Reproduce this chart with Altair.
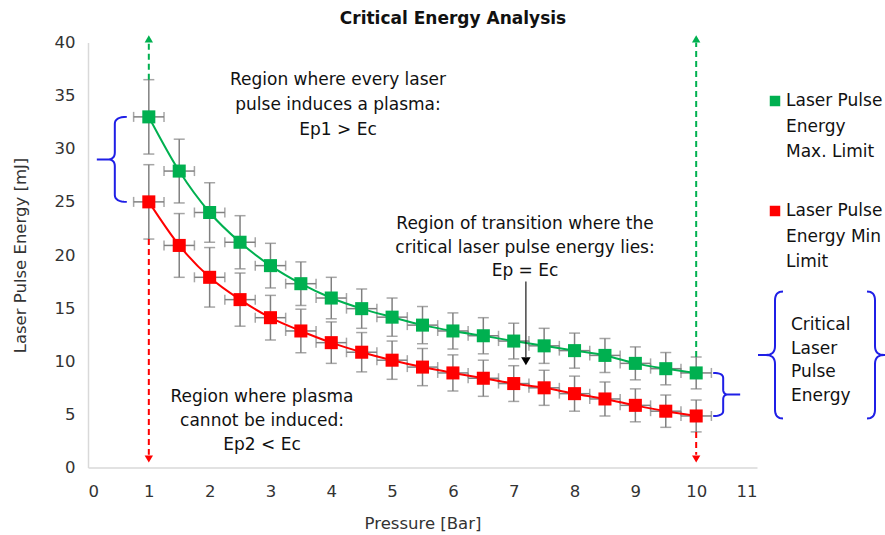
import altair as alt
import pandas as pd

# Pressure steps [Bar] and the two energy limits [mJ]
pressure = [1, 1.5, 2, 2.5, 3, 3.5, 4, 4.5, 5, 5.5, 6, 6.5, 7, 7.5, 8, 8.5, 9, 9.5, 10]
energy_max = [33.0, 27.9, 24.0, 21.2, 19.0, 17.3, 15.95, 14.95, 14.15, 13.4, 12.85,
              12.4, 11.9, 11.45, 11.0, 10.55, 9.8, 9.3, 8.9]
energy_min = [25.0, 20.9, 17.9, 15.8, 14.1, 12.85, 11.75, 10.85, 10.1, 9.45, 8.9,
              8.4, 7.9, 7.5, 6.95, 6.45, 5.85, 5.3, 4.85]
# symmetric uncertainty of each energy reading [mJ]
energy_err = [3.5, 3.0, 2.8, 2.5, 2.1, 2.05, 1.95, 1.85, 1.8, 1.75, 1.7,
              1.7, 1.68, 1.65, 1.65, 1.6, 1.55, 1.52, 1.5]
pressure_err = 0.25

series_names = ["Laser Pulse Energy Max. Limit", "Laser Pulse Energy Min Limit"]
GREEN = "#00b050"
RED = "#ff0000"
BLUE = "#1f1fe6"
GRAY = "#808080"
FONT = "DejaVu Sans"

W, H = 669, 425          # plot area in pixels
XMAX, YMAX = 11, 40
sx, sy = XMAX / W, YMAX / H

rows = []
for name, vals in zip(series_names, [energy_max, energy_min]):
    for p, e, err in zip(pressure, vals, energy_err):
        rows.append({"series": name, "p": p, "e": e,
                     "e_lo": e - err, "e_hi": e + err,
                     "p_lo": p - pressure_err, "p_hi": p + pressure_err})
df = pd.DataFrame(rows)

x_scale = alt.Scale(domain=[0, XMAX], nice=False, zero=False)
y_scale = alt.Scale(domain=[0, YMAX], nice=False)
color_scale = alt.Scale(domain=series_names, range=[GREEN, RED])

x_axis = alt.Axis(values=list(range(0, 12)), format="d", grid=False, ticks=False,
                  domainColor="#d9d9d9", domainWidth=1.5,
                  labelFont=FONT, labelFontSize=16.5, labelColor="#333333", labelPadding=16,
                  titleFont=FONT, titleFontSize=16.5, titleColor="#333333",
                  titleFontWeight="normal", titlePadding=15)
y_axis = alt.Axis(values=list(range(0, 45, 5)), format="d", grid=False, ticks=False,
                  domainColor="#d9d9d9", domainWidth=1.5,
                  labelFont=FONT, labelFontSize=16.5, labelColor="#333333", labelPadding=13,
                  titleFont=FONT, titleFontSize=16.5, titleColor="#333333",
                  titleFontWeight="normal", titlePadding=26)

base = alt.Chart(df)

# error bars
v_err = base.mark_rule(color=GRAY, strokeWidth=1.5).encode(
    x=alt.X("p:Q", scale=x_scale, axis=x_axis, title="Pressure [Bar]"),
    y=alt.Y("e_lo:Q", scale=y_scale, axis=y_axis, title="Laser Pulse Energy [mJ]"),
    y2="e_hi:Q")
h_err = base.mark_rule(color=GRAY, strokeWidth=1.5).encode(
    x="p_lo:Q", x2="p_hi:Q", y="e:Q")
cap_lo = base.mark_tick(color=GRAY, thickness=1.5, size=11, orient="horizontal").encode(
    x="p:Q", y="e_lo:Q")
cap_hi = base.mark_tick(color=GRAY, thickness=1.5, size=11, orient="horizontal").encode(
    x="p:Q", y="e_hi:Q")
cap_l = base.mark_tick(color=GRAY, thickness=1.5, size=10, orient="vertical").encode(
    x="p_lo:Q", y="e:Q")
cap_r = base.mark_tick(color=GRAY, thickness=1.5, size=10, orient="vertical").encode(
    x="p_hi:Q", y="e:Q")

lines = base.mark_line(interpolate="monotone", strokeWidth=2).encode(
    x="p:Q", y="e:Q",
    color=alt.Color("series:N", scale=color_scale, legend=None))
points = base.mark_square(size=170, opacity=1, filled=True).encode(
    x="p:Q", y="e:Q",
    color=alt.Color("series:N", scale=color_scale, legend=None))

# dashed guide arrows at the lowest and highest pressure
i_first, i_last = 0, len(pressure) - 1
guide_rows = []
for i in (i_first, i_last):
    guide_rows.append({"x": pressure[i], "y1": energy_max[i] + energy_err[i], "y2": 40.0,
                       "c": GREEN})
    guide_rows.append({"x": pressure[i], "y1": energy_min[i] - energy_err[i], "y2": 1.2,
                       "c": RED})
guides = pd.DataFrame(guide_rows)
dashes = alt.Chart(guides).mark_rule(strokeDash=[6, 4], strokeWidth=2).encode(
    x="x:Q", y="y1:Q", y2="y2:Q", color=alt.Color("c:N", scale=None))

heads_up = pd.DataFrame({"x": [pressure[i_first], pressure[i_last]], "y": [40.35, 40.35]})
heads_dn = pd.DataFrame({"x": [pressure[i_first], pressure[i_last]], "y": [0.8, 0.8]})
arrow_up = alt.Chart(heads_up).mark_point(shape="triangle-up", filled=True, size=70,
                                          color=GREEN, opacity=1).encode(x="x:Q", y="y:Q")
arrow_dn = alt.Chart(heads_dn).mark_point(shape="triangle-down", filled=True, size=70,
                                          color=RED, opacity=1).encode(x="x:Q", y="y:Q")

# black arrow pointing at the transition region
trans = pd.DataFrame({"x": [7.2], "y1": [17.5], "y2": [10.4], "tip": [10.0]})
trans_line = alt.Chart(trans).mark_rule(color="#1a1a1a", strokeWidth=1.2).encode(
    x="x:Q", y="y1:Q", y2="y2:Q")
trans_head = alt.Chart(trans).mark_point(shape="triangle-down", filled=True, size=90,
                                         color="#000000", opacity=1).encode(x="x:Q", y="tip:Q")


# curly braces, built in pixel offsets and mapped into axis units
def quad(p0, p1, p2, n=8):
    pts = []
    for k in range(1, n + 1):
        t = k / n
        x = (1 - t) ** 2 * p0[0] + 2 * (1 - t) * t * p1[0] + t ** 2 * p2[0]
        y = (1 - t) ** 2 * p0[1] + 2 * (1 - t) * t * p1[1] + t ** 2 * p2[1]
        pts.append((x, y))
    return pts


def brace(bid, x_end, x_spine, x_tip, y_top, y_bot, r=7):
    """pixel coords (relative to plot origin, y downward) of a curly brace"""
    y_mid = (y_top + y_bot) / 2
    d = 1 if x_tip > x_spine else -1
    pts = [(x_end, y_top)]
    pts += quad((x_end, y_top), (x_spine, y_top), (x_spine, y_top + r))
    pts.append((x_spine, y_mid - r))
    pts += quad((x_spine, y_mid - r), (x_spine, y_mid), (x_spine + d * r, y_mid))
    pts.append((x_tip, y_mid))
    pts.append((x_spine + d * r, y_mid))
    pts += quad((x_spine + d * r, y_mid), (x_spine, y_mid), (x_spine, y_mid + r))
    pts.append((x_spine, y_bot - r))
    pts += quad((x_spine, y_bot - r), (x_spine, y_bot), (x_end, y_bot))
    return [{"id": bid, "o": k, "x": px * sx, "y": (H - py) * sy} for k, (px, py) in enumerate(pts)]


def ypx(v):
    return H - v / sy


def xpx(v):
    return v / sx


brace_rows = []
brace_rows += brace("b1", xpx(pressure[0]) - 22, xpx(pressure[0]) - 34, xpx(pressure[0]) - 52,
                    ypx(energy_max[0]), ypx(energy_min[0]))
brace_rows += brace("b2", xpx(pressure[-1]) + 17, xpx(pressure[-1]) + 27, xpx(pressure[-1]) + 44,
                    ypx(energy_max[-1]), ypx(energy_min[-1]), r=5)
brace_rows += brace("b3", 695, 687, 670, 249, 376, r=9)
brace_rows += brace("b4", 779, 787, 800, 249, 376, r=9)
braces = alt.Chart(pd.DataFrame(brace_rows)).mark_line(color=BLUE, strokeWidth=2,
                                                       clip=False).encode(
    x="x:Q", y="y:Q", order="o:Q", detail="id:N")


def label(text, x, y, align="center", size=17, weight="normal", lh=25):
    # y is the centre of the first line
    return alt.Chart(pd.DataFrame({"t": [text]})).mark_text(
        align=align, baseline="middle", font=FONT, fontSize=size, fontWeight=weight,
        color="#111111", lineBreak="\n", lineHeight=lh).encode(
        text="t:N", x=alt.value(x), y=alt.value(y))


title = label("Critical Energy Analysis", 365, -24, size=17, weight="bold")
t1 = label("Region where every laser\npulse induces a plasma:\nEp1 > Ec", 250, 37.5, lh=25)
t2 = label("Region of transition where the\ncritical laser pulse energy lies:\nEp = Ec", 437, 181.5, lh=23.5)
t3 = label("Region where plasma\ncannot be induced:\nEp2 < Ec", 174, 354.5, lh=24)
t4 = label("Critical\nLaser\nPulse\nEnergy", 703, 282.5, align="left", lh=23.5)

# legend
leg = pd.DataFrame({"series": series_names,
                    "lab": ["Laser Pulse\nEnergy\nMax. Limit", "Laser Pulse\nEnergy Min\nLimit"],
                    "sy": [58.5, 168.5]})
leg_sq = alt.Chart(leg).mark_square(size=110, filled=True, opacity=1).encode(
    x=alt.value(687), y=alt.Y("sy:Q", scale=None),
    color=alt.Color("series:N", scale=color_scale, legend=None))
leg_tx = alt.Chart(leg).mark_text(align="left", baseline="middle", font=FONT, fontSize=17,
                                  color="#111111", lineBreak="\n", lineHeight=25.5).encode(
    x=alt.value(698), y=alt.Y("sy:Q", scale=None), text="lab:N")

chart = alt.layer(
    v_err, h_err, cap_lo, cap_hi, cap_l, cap_r,
    dashes, arrow_up, arrow_dn,
    lines, points,
    trans_line, trans_head, braces,
    title, t1, t2, t3, t4, leg_sq, leg_tx,
).properties(
    width=W, height=H,
    autosize=alt.AutoSizeParams(type="none"),
    padding={"left": 88, "top": 42.5, "right": 128, "bottom": 67.5},
    background="white",
).configure_view(stroke=None)

chart.save("out.html", embed_options={"renderer": "svg", "actions": False})
